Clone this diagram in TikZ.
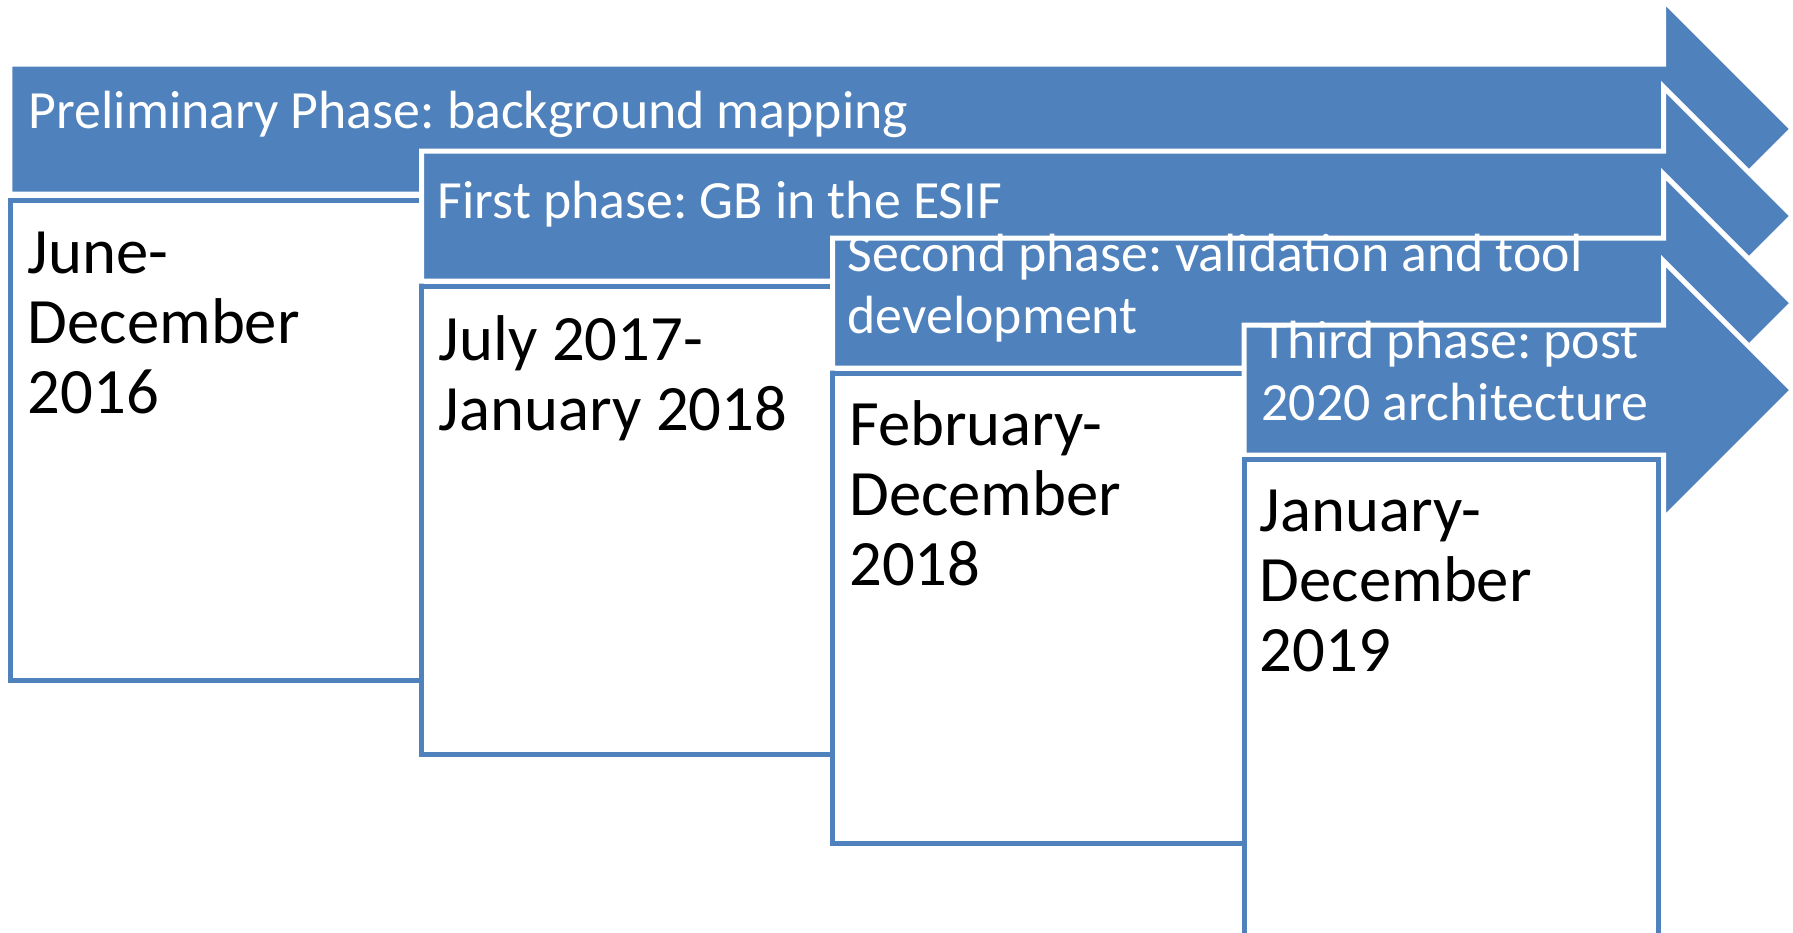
\documentclass[tikz,border=0pt]{standalone}
\usepackage{fontspec}
\setmainfont{Carlito}
\frenchspacing
\definecolor{phaseblue}{HTML}{4F81BD}

\begin{document}
\begin{tikzpicture}[x=0.01cm,y=-0.01cm,
    phase/.style={fill=phaseblue,draw=white,line width=1.42pt},
    period/.style={fill=white,draw=phaseblue,line width=1.42pt},
    phaselabel/.style={anchor=base west,inner sep=0pt,align=left,text=white,font=\fontsize{15.3}{17.4}\selectfont},
    periodlabel/.style={anchor=base west,inner sep=0pt,align=left,text=black,font=\fontsize{18.4}{19.9}\selectfont}]
    \useasboundingbox (0,0) rectangle (1793,932);
    \clip (0,0) rectangle (1793,932);
    % Preliminary Phase
    \draw[phase] (10,64) -- (1663.5,64) -- (1663.5,0) -- (1792.5,129) -- (1663.5,258) -- (1663.5,194) -- (10,194) -- cycle;
    \node[phaselabel] (prelim) at (28,128.3) {Preliminary Phase: background mapping};
    \draw[period] (10.8,200) rectangle (421.5,680);
    \node[periodlabel] (june) at (27,413) {June-\\December\\2016};
    % First phase
    \draw[phase] (421.5,151) -- (1663.5,151) -- (1663.5,87) -- (1792.5,216) -- (1663.5,345) -- (1663.5,281) -- (421.5,281) -- cycle;
    \node[phaselabel] (first) at (437,218) {First phase: GB in the ESIF};
    \draw[period] (421.5,286.5) rectangle (832.5,754);
    \node[periodlabel] (july) at (438,430) {July 2017-\\January 2018};
    % Second phase
    \draw[phase] (832.5,238) -- (1663.5,238) -- (1663.5,174) -- (1792.5,303) -- (1663.5,432) -- (1663.5,368) -- (832.5,368) -- cycle;
    \node[phaselabel] (second) at (847,333) {Second phase: validation and tool\\development};
    \draw[period] (832.5,373) rectangle (1244,843);
    \node[periodlabel] (feb) at (848.5,585) {February-\\December\\2018};
    % Third phase
    \draw[phase] (1244,325) -- (1663.5,325) -- (1663.5,261) -- (1792.5,390) -- (1663.5,519) -- (1663.5,455) -- (1244,455) -- cycle;
    \node[phaselabel] (third) at (1261,420) {Third phase: post\\2020 architecture};
    \draw[period] (1244,459) rectangle (1658,960);
    \node[periodlabel] (jan) at (1259,671) {January-\\December\\2019};
\end{tikzpicture}
\end{document}
